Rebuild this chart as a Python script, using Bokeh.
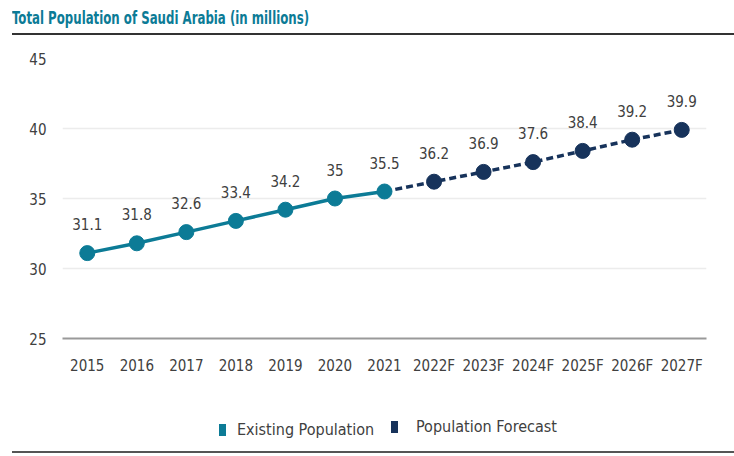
from bokeh.plotting import figure
from bokeh.models import ColumnDataSource, FixedTicker, LabelSet, Div
from bokeh.core.properties import value
from bokeh.layouts import column
from bokeh.embed import file_html
from bokeh.resources import INLINE

years = ["2015", "2016", "2017", "2018", "2019", "2020", "2021",
         "2022F", "2023F", "2024F", "2025F", "2026F", "2027F"]
existing_years = ["2015", "2016", "2017", "2018", "2019", "2020", "2021"]
existing = [31.1, 31.8, 32.6, 33.4, 34.2, 35, 35.5]
forecast_years = ["2022F", "2023F", "2024F", "2025F", "2026F", "2027F"]
forecast = [36.2, 36.9, 37.6, 38.4, 39.2, 39.9]
y_ticks = [25, 30, 35, 40, 45]
title_text = "Total Population of Saudi Arabia (in millions)"
legend_labels = ["Existing Population", "Population Forecast"]

TEAL = "#0c7b96"
NAVY = "#17335b"
FONT = "DejaVu Sans Condensed"
GRAY = "#404040"

title_div = Div(
    text=(f'<div style="margin-left:12px;width:722px;height:35px;box-sizing:border-box;'
          f'border-bottom:2px solid #333;padding-top:6px;">'
          f'<div style="font-family:\'{FONT}\';font-weight:bold;font-size:17px;color:{TEAL};'
          f'white-space:nowrap;transform:scaleX(0.77);transform-origin:left center;'
          f'display:inline-block">{title_text}</div></div>'),
    width=734, height=35, margin=0)

p = figure(x_range=years, y_range=(25, 45), width=734, height=345,
           output_backend="svg", toolbar_location=None, margin=0,
           min_border_left=62, min_border_right=28, min_border_top=23, min_border_bottom=42)
p.outline_line_color = None

ex_src = ColumnDataSource(dict(x=existing_years, y=existing, t=[str(v) for v in existing]))
fc_src = ColumnDataSource(dict(x=forecast_years, y=forecast, t=[str(v) for v in forecast]))
dash_src = ColumnDataSource(dict(x=[existing_years[-1]] + forecast_years, y=[existing[-1]] + forecast))

p.line("x", "y", source=dash_src, color=NAVY, line_width=3.5, line_dash="7 4")
p.line("x", "y", source=ex_src, color=TEAL, line_width=3.5)
p.scatter("x", "y", source=ex_src, size=15, color=TEAL)
p.scatter("x", "y", source=fc_src, size=15, color=NAVY)

for src in (ex_src, fc_src):
    p.add_layout(LabelSet(x="x", y="y", text="t", source=src, y_offset=23,
                          text_align="center", text_baseline="bottom",
                          text_font=value(FONT), text_font_size="15px", text_color=GRAY))

p.yaxis.ticker = FixedTicker(ticks=y_ticks)
p.yaxis.axis_line_color = None
p.yaxis.major_tick_line_color = None
p.yaxis.minor_tick_line_color = None
p.yaxis.major_label_text_font = FONT
p.yaxis.major_label_text_font_size = "15px"
p.yaxis.major_label_text_color = GRAY
p.yaxis.major_label_standoff = 10

p.xaxis.axis_line_color = "#999999"
p.xaxis.axis_line_width = 2
p.xaxis.major_tick_line_color = None
p.xaxis.minor_tick_line_color = "#999999"
p.xaxis.minor_tick_in = 0
p.xaxis.minor_tick_out = 6
p.xaxis.major_label_text_font = FONT
p.xaxis.major_label_text_font_size = "15px"
p.xaxis.major_label_text_color = GRAY
p.xaxis.major_label_standoff = 12

p.xgrid.grid_line_color = None
p.ygrid.grid_line_color = "#ececec"
p.ygrid.grid_line_width = 1.5

def swatch(left, top, color):
    return (f'<div style="position:absolute;left:{left}px;top:{top}px;width:7px;height:12px;'
            f'background:{color}"></div>')

def lab(left, top, text):
    return (f'<div style="position:absolute;left:{left}px;top:{top}px;font-family:\'{FONT}\';'
            f'font-size:16px;color:{GRAY};white-space:nowrap;line-height:18px">{text}</div>')

bottom_html = ('<div style="position:relative;width:734px;height:76px">'
               + swatch(219, 44, TEAL) + lab(237, 41, legend_labels[0])
               + swatch(391, 41, NAVY) + lab(416, 38, legend_labels[1])
               + '<div style="position:absolute;left:12px;top:71px;width:722px;height:2px;background:#555"></div>'
               + '</div>')
bottom_div = Div(text=bottom_html, width=734, height=76, margin=0)

layout = column(title_div, p, bottom_div, spacing=0)
open("out.html", "w").write(file_html(layout, INLINE))
